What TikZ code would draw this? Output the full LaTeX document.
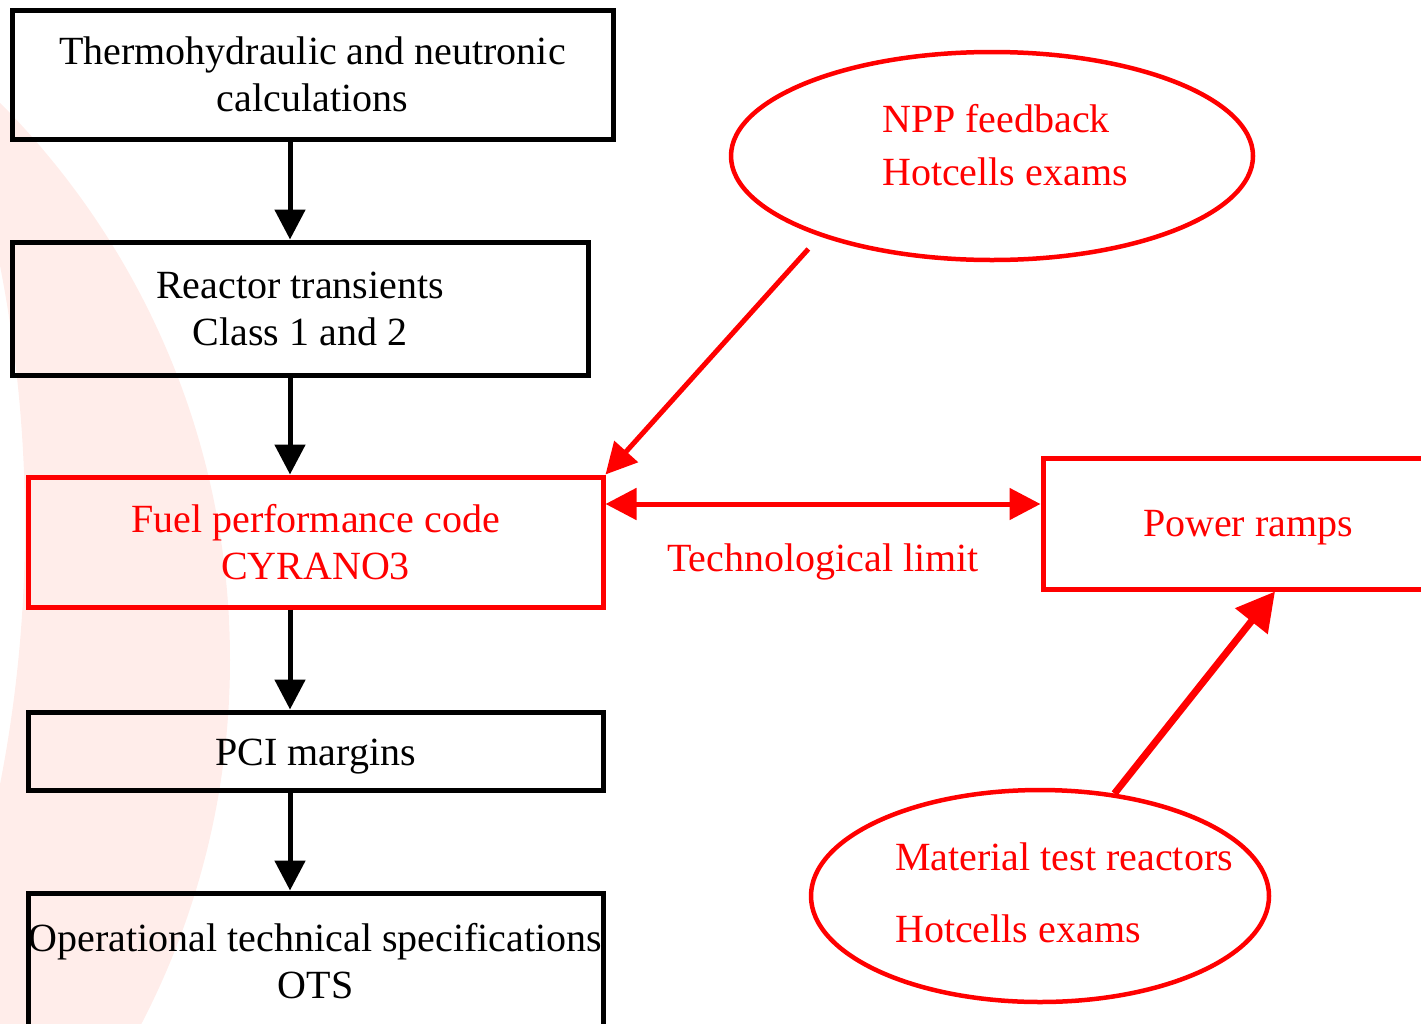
\documentclass[tikz,border=0pt]{standalone}
\usepackage{fontspec}
\setmainfont{Liberation Serif}
\usetikzlibrary{arrows.meta,shapes.geometric,calc}

\definecolor{diagram-red}{HTML}{FF0000}
\definecolor{watermark}{HTML}{FFEDEA}
\tikzstyle{black-box}=[draw=black, line width=5pt, inner sep=0pt, align=center, font=\fontsize{40}{47}\selectfont]
\tikzstyle{red-box}=[black-box, draw=diagram-red, text=diagram-red]
\tikzstyle{red-ellipse}=[ellipse, draw=diagram-red, line width=4.5pt, inner sep=0pt]
\tikzstyle{red-text}=[text=diagram-red, align=left, inner sep=0pt, anchor=west]
\tikzstyle{black-arrow}=[line width=5pt, -{Triangle[width=30pt, length=30pt]}]
\tikzstyle{red-arrow}=[color=diagram-red, line width=5pt, -{Triangle[width=31pt, length=31pt]}]

\begin{document}
\begin{tikzpicture}[x=1pt, y=-1pt]
  \useasboundingbox (0,0) rectangle (1421,1023);
  \fill[watermark, even odd rule] (-560,660) circle (790) (-1319,525) circle (1344);

  \node (thermo) at (312.5, 74.5) [black-box, minimum width=601pt, minimum height=129pt]
        {Thermohydraulic and neutronic\\calculations};
  \node (transients) at (300, 308.5) [black-box, minimum width=576pt, minimum height=133pt]
        {Reactor transients\\Class 1 and 2};
  \node (cyrano) at (315.5, 542) [red-box, minimum width=575pt, minimum height=130pt]
        {Fuel performance code\\CYRANO3};
  \node (pci) at (315.5, 751) [black-box, minimum width=575pt, minimum height=78pt,
        text height=37pt, text depth=9pt] {PCI margins};
  \node (ots) at (315.5, 961) [black-box, minimum width=575pt, minimum height=136pt]
        {Operational technical specifications\\OTS};
  \node (ramps) at (1248, 523.5) [red-box, minimum width=410pt, minimum height=131pt,
        text height=35pt, text depth=9pt] {Power ramps};
  \node (feedback) at (992, 156) [red-ellipse, minimum width=522pt, minimum height=208pt] {};
  \node (feedback-text) at (882, 145) [red-text, font=\fontsize{40}{53}\selectfont]
        {NPP feedback\\Hotcells exams};
  \node (mtr) at (1040, 896) [red-ellipse, minimum width=458pt, minimum height=212pt] {};
  \node (mtr-text) at (895, 893) [red-text, font=\fontsize{40}{72}\selectfont]
        {Material test reactors\\Hotcells exams};

  \coordinate (spine) at (290, 0);
  \coordinate (link) at (0, 504);
  \draw[black-arrow] (thermo.south -| spine) -- (transients.north -| spine);
  \draw[black-arrow] (transients.south -| spine) -- (cyrano.north -| spine);
  \draw[black-arrow] (cyrano.south -| spine) -- (pci.north -| spine);
  \draw[black-arrow] (pci.south -| spine) -- (ots.north -| spine);

  \draw[red-arrow, shorten <=17pt] (feedback.205.6) -- (cyrano.north east);
  \draw[red-arrow, {Triangle[width=31pt, length=31pt]}-{Triangle[width=31pt, length=31pt]}]
        (cyrano.east |- link) -- (ramps.west |- link)
        node[midway, yshift=-58pt, text=diagram-red, font=\fontsize{40}{47}\selectfont] (techlimit)
        {Technological limit};
  \draw[red-arrow, line width=7pt, -{Triangle[width=40pt, length=38pt]}]
        (mtr.54) -- ($(ramps.south west)!0.565!(ramps.south east)$);
\end{tikzpicture}
\end{document}
